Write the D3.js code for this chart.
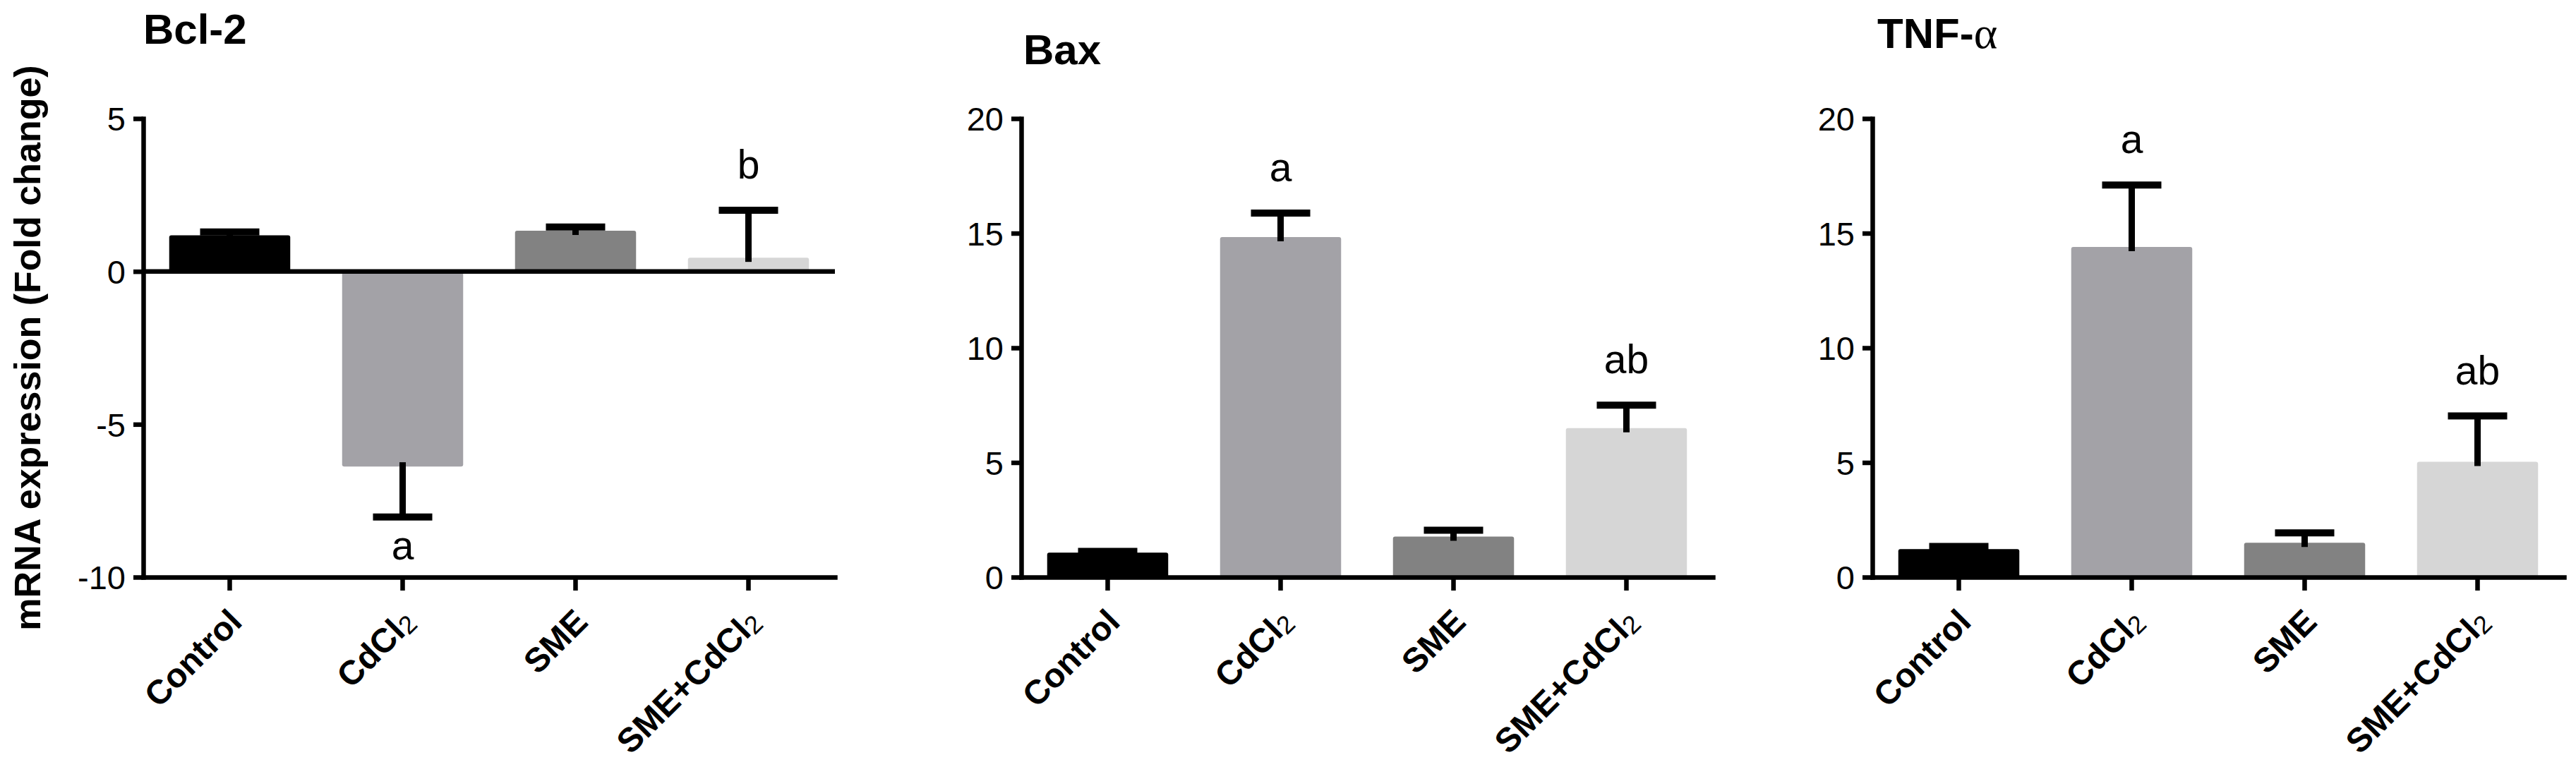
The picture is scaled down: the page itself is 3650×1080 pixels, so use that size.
<!DOCTYPE html>
<html><head><meta charset="utf-8">
<script src="https://cdn.jsdelivr.net/npm/d3@7"></script>
<style>html,body{margin:0;padding:0;background:#fff}</style>
</head><body>
<svg id="chart" width="3650" height="1080"></svg>
<script>
// ---- data ----
const categories = ["Control", "CdCl2", "SME", "SME+CdCl2"];
const barColors = ["#000000", "#a3a2a7", "#828282", "#d6d6d6"];

const bcl2Mean = [1.18, -6.38, 1.33, 0.45];
const bcl2Err  = [0.11, 1.65, 0.12, 1.55];
const bcl2Letters = ["", "a", "", "b"];
const bcl2Ticks = [-10, -5, 0, 5];

const baxMean = [1.07, 14.83, 1.77, 6.5];
const baxErr  = [0.05, 1.05, 0.28, 1.0];
const baxLetters = ["", "a", "", "ab"];
const baxTicks = [0, 5, 10, 15, 20];

const tnfMean = [1.22, 14.4, 1.5, 5.03];
const tnfErr  = [0.12, 2.7, 0.43, 2.0];
const tnfLetters = ["", "a", "", "ab"];
const tnfTicks = [0, 5, 10, 15, 20];

const yAxisTitle = "mRNA expression (Fold change)";

// ---- layout ----
const TOP = 168, BOTTOM = 818, PW = 980;
const FONT = "Arial, 'Liberation Sans', sans-serif";
const panels = [
  {title: "Bcl-2", greek: "", means: bcl2Mean, errs: bcl2Err, letters: bcl2Letters, ticks: bcl2Ticks, domain: [-10, 5], x0: 203, titleX: 203, titleY: 62},
  {title: "Bax", greek: "", means: baxMean, errs: baxErr, letters: baxLetters, ticks: baxTicks, domain: [0, 20], x0: 1447, titleX: 1450, titleY: 91},
  {title: "TNF-", greek: "\u03b1", means: tnfMean, errs: tnfErr, letters: tnfLetters, ticks: tnfTicks, domain: [0, 20], x0: 2653, titleX: 2660, titleY: 68}
];

const svg = d3.select("#chart");
svg.append("rect").attr("width", 3650).attr("height", 1080).attr("fill", "#fff");

panels.forEach((p, pi) => {
  const g = svg.append("g").attr("transform", `translate(${p.x0},0)`);
  const x = d3.scaleBand().domain(categories).range([0, PW]).paddingInner(0.3).paddingOuter(0.15);
  const y = d3.scaleLinear().domain(p.domain).range([BOTTOM, TOP]);
  const data = categories.map((c, i) => ({c, v: p.means[i], e: p.errs[i], l: p.letters[i], col: barColors[i]}));

  // bars
  g.selectAll("rect.bar").data(data).enter().append("rect")
    .attr("class", "bar")
    .attr("x", d => x(d.c))
    .attr("width", x.bandwidth())
    .attr("y", d => Math.min(y(d.v), y(0)))
    .attr("height", d => Math.abs(y(d.v) - y(0)))
    .attr("rx", 3)
    .attr("fill", d => d.col);

  // error bars
  const cx = d => x(d.c) + x.bandwidth() / 2;
  const endV = d => d.v >= 0 ? d.v + d.e : d.v - d.e;
  g.selectAll("line.stem").data(data).enter().append("line")
    .attr("x1", cx).attr("x2", cx)
    .attr("y1", d => y(d.v) + (d.v >= 0 ? 6 : -6))
    .attr("y2", d => y(endV(d)))
    .attr("stroke", "#000").attr("stroke-width", 9);
  g.selectAll("line.cap").data(data).enter().append("line")
    .attr("x1", d => cx(d) - 42).attr("x2", d => cx(d) + 42)
    .attr("y1", d => y(endV(d))).attr("y2", d => y(endV(d)))
    .attr("stroke", "#000").attr("stroke-width", 10);

  // letters
  g.selectAll("text.sig").data(data.filter(d => d.l)).enter().append("text")
    .attr("x", cx)
    .attr("y", d => d.v >= 0 ? y(endV(d)) - 45 : y(endV(d)) + 60)
    .attr("text-anchor", "middle")
    .attr("font-family", FONT).attr("font-size", 57).attr("fill", "#000")
    .text(d => d.l);

  // zero line (for panel with negative domain)
  if (p.domain[0] < 0) {
    g.append("line").attr("x1", 0).attr("x2", PW).attr("y1", y(0)).attr("y2", y(0))
      .attr("stroke", "#000").attr("stroke-width", 6.5);
  }

  // y axis
  const ya = g.append("g").call(d3.axisLeft(y).tickValues(p.ticks).tickSize(14).tickSizeOuter(0).tickPadding(11).tickFormat(d => String(d)));
  ya.select(".domain").attr("stroke-width", 6.5).attr("stroke-linecap", "square");
  ya.selectAll(".tick line").attr("stroke-width", 6.5);
  ya.selectAll(".tick text").attr("font-family", FONT).attr("font-size", 47).attr("fill", "#000").attr("dy", "0.36em");

  // x axis
  const xa = g.append("g").attr("transform", `translate(0,${BOTTOM})`)
    .call(d3.axisBottom(x).tickSize(19).tickSizeOuter(0).tickFormat(""));
  xa.select(".domain").attr("stroke-width", 6.5).attr("stroke-linecap", "square");
  xa.selectAll(".tick line").attr("stroke-width", 6.5);

  // category labels
  categories.forEach(c => {
    const px = x(c) + x.bandwidth() / 2 + 20, py = BOTTOM + 66;
    const t = g.append("text")
      .attr("transform", `translate(${px},${py}) rotate(-45)`)
      .attr("text-anchor", "end")
      .attr("font-family", FONT).attr("font-size", 48).attr("font-weight", "bold").attr("fill", "#000");
    if (c.endsWith("Cl2")) {
      t.append("tspan").text(c.slice(0, -1));
      t.append("tspan").attr("font-size", 36).attr("font-weight", "normal").attr("dy", 4).text("2");
    } else {
      t.text(c);
    }
  });

  // title
  const tt = svg.append("text").attr("x", p.titleX).attr("y", p.titleY)
    .attr("font-family", FONT).attr("font-size", 60).attr("font-weight", "bold").attr("fill", "#000");
  tt.append("tspan").text(p.title);
  if (p.greek) tt.append("tspan").attr("font-family", "'Liberation Serif', 'DejaVu Serif', serif").attr("font-weight", "normal").attr("font-size", 64).text(p.greek);

  if (pi === 0) {
    svg.append("text")
      .attr("transform", `translate(57,${(TOP + BOTTOM) / 2}) rotate(-90)`)
      .attr("text-anchor", "middle")
      .attr("font-family", FONT).attr("font-size", 52).attr("font-weight", "bold").attr("fill", "#000")
      .text(yAxisTitle);
  }
});
</script>
</body></html>
